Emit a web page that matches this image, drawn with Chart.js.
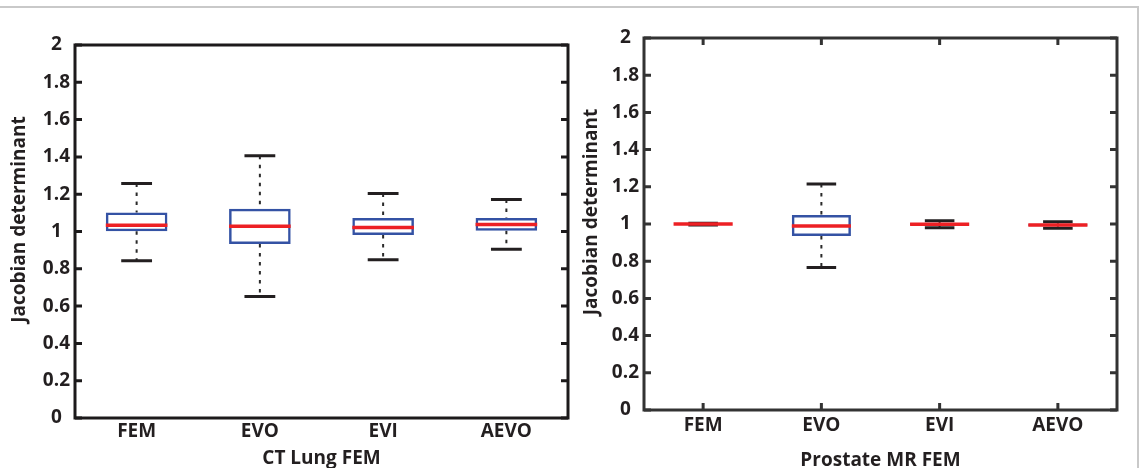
<!DOCTYPE html>
<html><head><meta charset="utf-8">
<script src="https://cdn.jsdelivr.net/npm/chart.js@4.4.1/dist/chart.umd.min.js"></script>
<style>
html,body{margin:0;padding:0;background:#fff;}
body{width:1144px;height:468px;position:relative;overflow:hidden;}
#frame{position:absolute;left:-4px;top:6px;width:1143px;height:470px;border-top:2px solid #c9c9c9;border-right:2px solid #c9c9c9;box-sizing:border-box;}
#w1{position:absolute;left:0;top:0;width:572px;height:468px;}
#w2{position:absolute;left:572px;top:0;width:566px;height:468px;}
</style></head><body>
<div id="frame"></div>
<div id="w1"><canvas id="c1"></canvas></div>
<div id="w2"><canvas id="c2"></canvas></div>
<script>
const categories = ['FEM', 'EVO', 'EVI', 'AEVO'];
const yTickLabels = ['0', '0.2', '0.4', '0.6', '0.8', '1', '1.2', '1.4', '1.6', '1.8', '2'];
const yTitle = 'Jacobian determinant';
const lungTitle = 'CT Lung FEM';
const prostTitle = 'Prostate MR FEM';

// CT Lung FEM
const lungMin    = [0.843, 0.651, 0.848, 0.905];
const lungQ1     = [1.001, 0.933, 0.981, 1.004];
const lungMedian = [1.033, 1.028, 1.022, 1.038];
const lungQ3     = [1.102, 1.122, 1.072, 1.072];
const lungMax    = [1.257, 1.406, 1.204, 1.172];

// Prostate MR FEM
const prostMin    = [0.995, 0.766, 0.980, 0.977];
const prostQ1     = [0.998, 0.935, 0.994, 0.988];
const prostMedian = [1.000, 0.989, 0.999, 0.994];
const prostQ3     = [1.002, 1.049, 1.006, 1.002];
const prostMax    = [1.004, 1.215, 1.017, 1.012];

const FONT = "'Open Sans', 'DejaVu Sans', sans-serif";
const INK = '#231f20';

function boxPlugin(st, frameColor, xTicks) {
  return {
    id: 'boxdraw',
    beforeDatasetsDraw(chart) {
      const {ctx, scales: {x, y}} = chart;
      const meta = chart.getDatasetMeta(0);
      ctx.save();
      st.min.forEach((_, i) => {
        const bar = meta.data[i];
        const cx = x.getPixelForValue(i);
        const half = bar.width / 4;
        ctx.strokeStyle = '#2a2a2a';
        ctx.lineWidth = 2;
        ctx.setLineDash([3.5, 5.5]);
        ctx.beginPath();
        ctx.moveTo(cx, y.getPixelForValue(st.max[i]));
        ctx.lineTo(cx, y.getPixelForValue(st.q3[i]));
        ctx.moveTo(cx, y.getPixelForValue(st.q1[i]));
        ctx.lineTo(cx, y.getPixelForValue(st.min[i]));
        ctx.stroke();
        ctx.setLineDash([]);
        ctx.strokeStyle = INK;
        ctx.lineWidth = 3;
        ctx.beginPath();
        [st.max[i], st.min[i]].forEach(v => {
          const py = y.getPixelForValue(v);
          ctx.moveTo(cx - half, py);
          ctx.lineTo(cx + half, py);
        });
        ctx.stroke();
      });
      ctx.restore();
    },
    afterDatasetsDraw(chart) {
      const {ctx, scales: {y}} = chart;
      const meta = chart.getDatasetMeta(0);
      ctx.save();
      ctx.strokeStyle = '#ed2024';
      ctx.lineWidth = 3.5;
      st.med.forEach((v, i) => {
        const bar = meta.data[i];
        const py = y.getPixelForValue(v);
        ctx.beginPath();
        ctx.moveTo(bar.x - bar.width / 2, py);
        ctx.lineTo(bar.x + bar.width / 2, py);
        ctx.stroke();
      });
      ctx.restore();
    },
    afterDraw(chart) {
      const {ctx, chartArea: a, scales: {x, y}} = chart;
      ctx.save();
      ctx.strokeStyle = frameColor;
      ctx.lineWidth = 3;
      ctx.strokeRect(a.left, a.top, a.right - a.left, a.bottom - a.top);
      ctx.beginPath();
      y.ticks.forEach(t => {
        const py = y.getPixelForValue(t.value);
        ctx.moveTo(a.left, py); ctx.lineTo(a.left + 7, py);
        ctx.moveTo(a.right, py); ctx.lineTo(a.right - 7, py);
      });
      if (xTicks) {
        categories.forEach((c, i) => {
          const px = x.getPixelForValue(i);
          ctx.moveTo(px, a.bottom); ctx.lineTo(px, a.bottom - 7);
          ctx.moveTo(px, a.top); ctx.lineTo(px, a.top + 7);
        });
      }
      ctx.stroke();
      // y-axis title
      ctx.fillStyle = INK;
      ctx.font = 'bold 19px ' + FONT;
      ctx.textAlign = 'center';
      ctx.textBaseline = 'middle';
      ctx.translate(20, (a.top + a.bottom) / 2 - 12);
      ctx.rotate(-Math.PI / 2);
      ctx.fillText(yTitle, 0, 0);
      ctx.restore();
    }
  };
}

function makeChart(id, st, xTitle, geom) {
  return new Chart(document.getElementById(id), {
    type: 'bar',
    data: {
      labels: categories,
      datasets: [{
        data: categories.map((c, i) => [st.q1[i], st.q3[i]]),
        backgroundColor: 'rgba(0,0,0,0)',
        borderColor: '#3452a4',
        borderWidth: 2.5,
        borderSkipped: false,
        barPercentage: 0.5,
        categoryPercentage: 1.0
      }]
    },
    options: {
      responsive: true,
      maintainAspectRatio: false,
      animation: false,
      devicePixelRatio: 1,
      layout: {padding: {left: 0, right: geom.padRight, top: geom.top, bottom: 0}},
      plugins: {legend: {display: false}, tooltip: {enabled: false}},
      scales: {
        x: {
          grid: {display: false, drawTicks: false},
          border: {display: false},
          ticks: {color: INK, font: {family: FONT, size: 19, weight: 'bold', lineHeight: 1.2}, padding: geom.xPad, maxRotation: 0},
          title: {display: true, text: xTitle, color: INK, font: {family: FONT, size: 19, weight: 'bold', lineHeight: 1}, padding: {top: 0, bottom: geom.titlePad}},
          afterFit: s => { s.height = geom.xH; }
        },
        y: {
          min: 0, max: 2,
          grid: {display: false, drawTicks: false},
          border: {display: false},
          ticks: {stepSize: 0.2, color: INK, crossAlign: 'center', padding: 5,
                  font: {family: FONT, size: 19, weight: 'bold'},
                  callback: (v, i) => yTickLabels[i]},
          afterFit: s => { s.width = geom.yW; }
        }
      }
    },
    plugins: [boxPlugin(st, geom.frameColor, geom.xTicks)]
  });
}

makeChart('c1', {min: lungMin, q1: lungQ1, med: lungMedian, q3: lungQ3, max: lungMax}, lungTitle,
  {padRight: 4, top: 45, xH: 50, yW: 75, xPad: 2, titlePad: 0, frameColor: '#1c1a1b', xTicks: false});
makeChart('c2', {min: prostMin, q1: prostQ1, med: prostMedian, q3: prostQ3, max: prostMax}, prostTitle,
  {padRight: 21, top: 38, xH: 58, yW: 72, xPad: 4, titlePad: -2, frameColor: '#333333', xTicks: true});
</script>
</body></html>
